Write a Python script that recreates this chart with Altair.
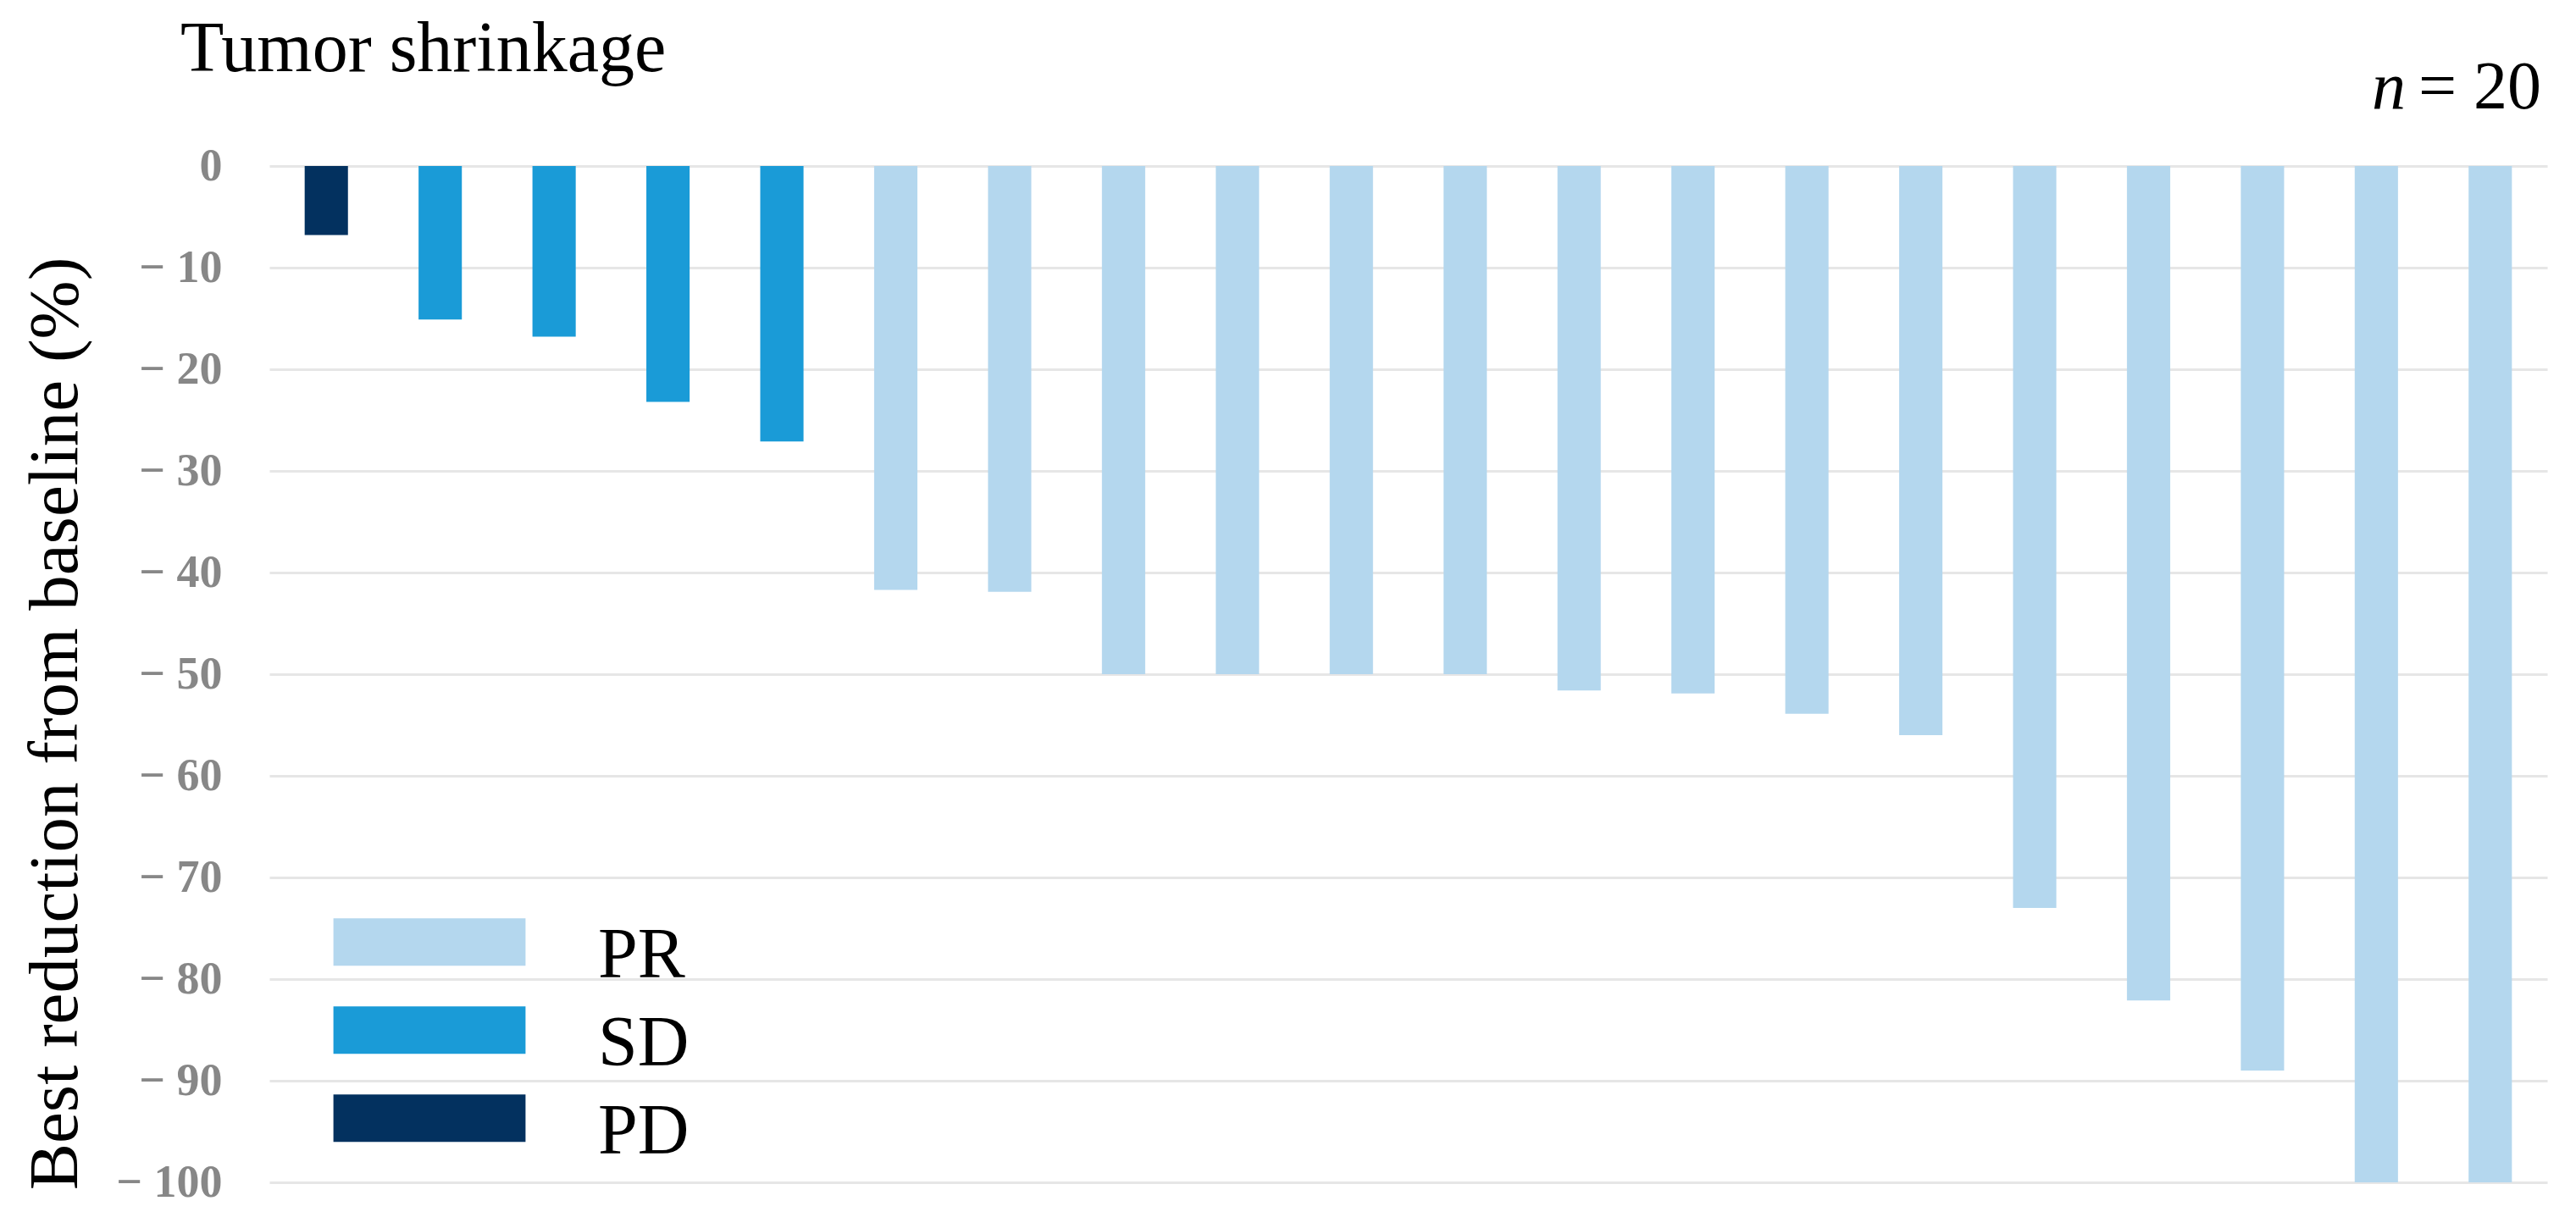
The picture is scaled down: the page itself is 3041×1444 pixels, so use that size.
import altair as alt
import pandas as pd

# ---- data ----
patients = ["P01", "P02", "P03", "P04", "P05", "P06", "P07", "P08", "P09", "P10",
            "P11", "P12", "P13", "P14", "P15", "P16", "P17", "P18", "P19", "P20"]
reduction = [-6.8, -15.1, -16.8, -23.2, -27.1, -41.7, -41.9, -50.0, -50.0, -50.0,
             -50.0, -51.6, -51.9, -53.9, -56.0, -73.0, -82.1, -89.0, -100.0, -100.0]
response = ["PD", "SD", "SD", "SD", "SD", "PR", "PR", "PR", "PR", "PR",
            "PR", "PR", "PR", "PR", "PR", "PR", "PR", "PR", "PR", "PR"]
categories = ["PR", "SD", "PD"]
cat_colors = ["#b4d7ee", "#1a9bd7", "#03315f"]
y_ticks = [0, -10, -20, -30, -40, -50, -60, -70, -80, -90, -100]
title_text = ["Tumor shrinkage"]
n_symbol = ["n"]
n_value = ["= 20"]

df = pd.DataFrame({"patient": patients, "reduction": reduction, "response": response})

SERIF = "Liberation Serif"
W, H = 2689, 1200

bars = alt.Chart(df).mark_bar().encode(
    x=alt.X("patient:N", sort=None, axis=None,
            scale=alt.Scale(paddingInner=0.62, paddingOuter=0.31)),
    y=alt.Y("reduction:Q",
            scale=alt.Scale(domain=[-100, 0], nice=False),
            axis=alt.Axis(
                title="Best reduction from baseline (%)",
                values=y_ticks,
                labelExpr="datum.value == 0 ? '0' : '\u2212 ' + abs(datum.value)",
                titleFont=SERIF, titleFontSize=83, titleFontWeight="normal",
                titleColor="#000000", titleX=-253, titleY=658,
                titleAlign="center", titleBaseline="middle", titleAngle=270,
                labelFont=SERIF, labelFontSize=54, labelFontWeight="bold",
                labelColor="#878787", labelPadding=56,
                ticks=False, domain=False, grid=True,
                gridColor="#e6e6e6", gridWidth=3)),
    color=alt.Color("response:N",
                    scale=alt.Scale(domain=categories, range=cat_colors),
                    legend=alt.Legend(
                        title=None, orient="none", legendX=147, legendY=891,
                        labelFont=SERIF, labelFontSize=84, labelColor="#000000",
                        labelOffset=157, rowPadding=17, padding=0,
                        symbolType="M-4.05,-1.6H4.05V0.4H-4.05Z",
                        symbolSize=3136, symbolStrokeWidth=0, symbolOpacity=1)),
)

title = alt.Chart(pd.DataFrame({"t": title_text})).mark_text(
    font=SERIF, fontSize=84, align="left", baseline="alphabetic", color="#000000"
).encode(text="t:N", x=alt.value(-105), y=alt.value(-112))

n_sym = alt.Chart(pd.DataFrame({"t": n_symbol})).mark_text(
    font=SERIF, fontSize=80, fontStyle="italic", align="right",
    baseline="alphabetic", color="#000000"
).encode(text="t:N", x=alt.value(2522), y=alt.value(-68))

n_val = alt.Chart(pd.DataFrame({"t": n_value})).mark_text(
    font=SERIF, fontSize=80, align="right", baseline="alphabetic", color="#000000"
).encode(text="t:N", x=alt.value(2682), y=alt.value(-68))

chart = alt.layer(bars, title, n_sym, n_val).properties(
    width=W, height=H,
    autosize=alt.AutoSizeParams(type="none"),
    padding={"left": 310, "top": 188, "right": 20, "bottom": 30},
).configure_view(stroke=None)

chart.save("out.html", embed_options={"renderer": "svg", "actions": False})
